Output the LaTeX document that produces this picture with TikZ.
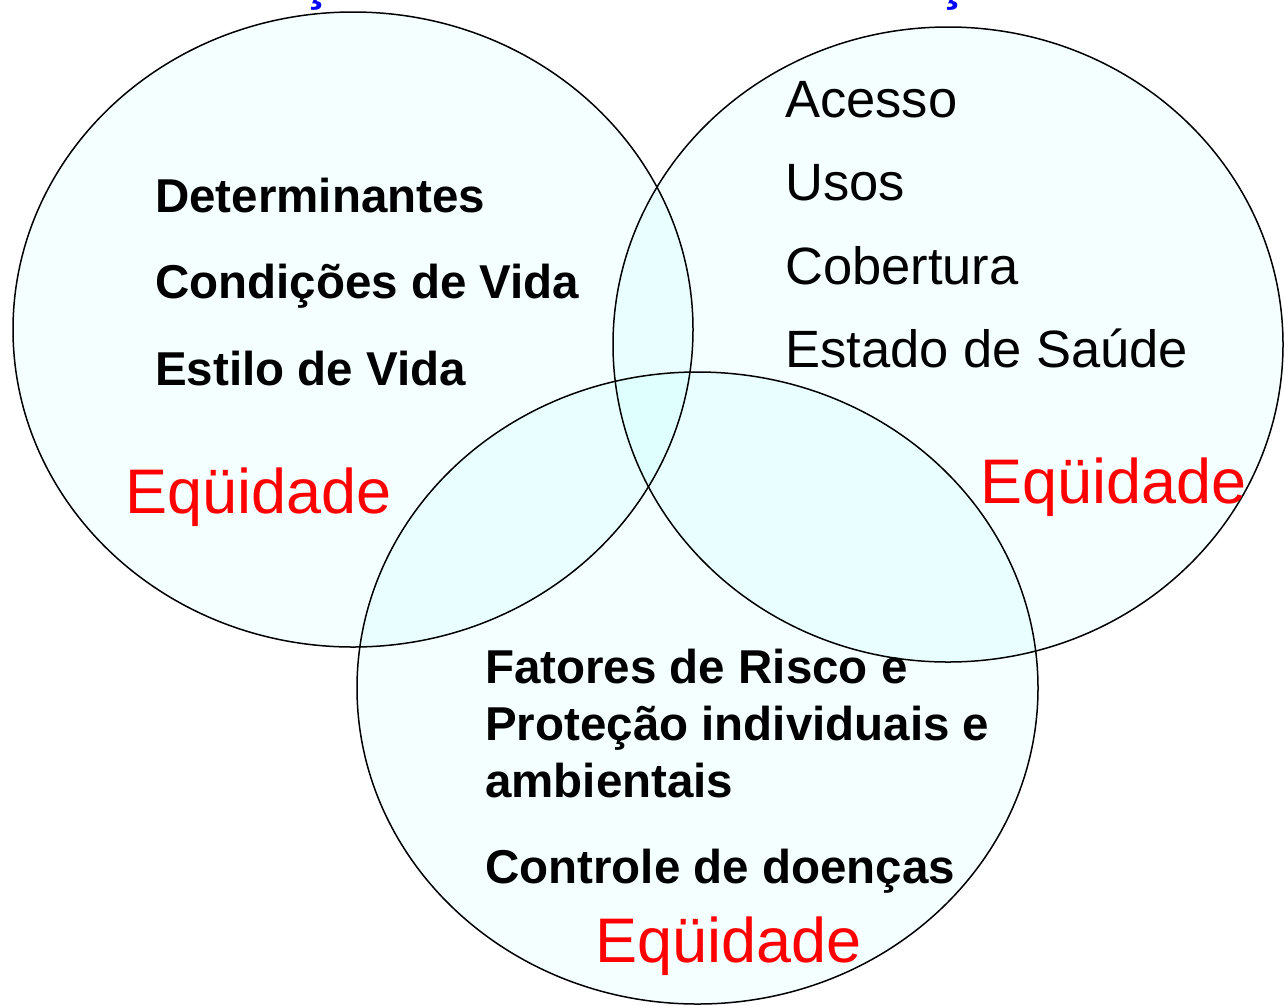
\documentclass[tikz,border=0pt]{standalone}
\usepackage{fontspec}
\setmainfont{Liberation Sans}
\definecolor{ringcyan}{RGB}{0,255,255}
\definecolor{titleblue}{RGB}{0,0,255}
\definecolor{eqred}{RGB}{255,0,0}
\begin{document}
\begin{tikzpicture}[x=1pt,y=-1pt,
  ring/.style={draw=black,line width=1.5pt},
  ringfill/.style={fill=ringcyan,fill opacity=0.045},
  boldtxt/.style={anchor=base west,inner sep=0pt,font=\fontsize{47.5}{57}\selectfont\bfseries},
  regtxt/.style={anchor=base west,inner sep=0pt,font=\fontsize{52.5}{63}\selectfont},
  eqtxt/.style={anchor=base west,inner sep=0pt,text=eqred,font=\fontsize{63}{75}\selectfont},
  titletxt/.style={anchor=base west,inner sep=0pt,text=titleblue,font=\fontsize{52.5}{63}\selectfont\bfseries}]
\useasboundingbox (0,0) rectangle (1284,1005);
\begin{scope}
\clip (0,0) rectangle (1284,1005);
\node[titletxt] (title) at (106,-0.5) {Articulação da Saúde com a Atenção};
% fills
\fill[ringfill] (353,329.5) ellipse [x radius=340,y radius=317.5];
\fill[ringfill] (948,344.5) ellipse [x radius=335,y radius=317.5];
\fill[ringfill] (697.5,688) ellipse [x radius=340.5,y radius=316];
% outlines
\draw[ring] (353,329.5) ellipse [x radius=340,y radius=317.5];
\draw[ring] (948,344.5) ellipse [x radius=335,y radius=317.5];
\draw[ring] (697.5,688) ellipse [x radius=340.5,y radius=316];
\end{scope}
% left circle text
\node[boldtxt] (det) at (155,212) {Determinantes};
\node[boldtxt] (cond) at (155,298) {Condições de Vida};
\node[boldtxt] (est) at (155,385) {Estilo de Vida};
\node[eqtxt] (eq1) at (125,513) {Eqüidade};
% right circle text
\node[regtxt] (ace) at (785,117) {Acesso};
\node[regtxt] (uso) at (785,200) {Usos};
\node[regtxt] (cob) at (785,284) {Cobertura};
\node[regtxt] (esa) at (785,367) {Estado de Saúde};
\node[eqtxt] (eq2) at (980,503) {Eqüidade};
% bottom circle text
\node[boldtxt] (fat) at (485,683) {Fatores de Risco e};
\node[boldtxt] (pro) at (485,740) {Proteção individuais e};
\node[boldtxt] (amb) at (485,797) {ambientais};
\node[boldtxt] (con) at (485,883) {Controle de doenças};
\node[eqtxt] (eq3) at (595,962) {Eqüidade};
\end{tikzpicture}
\end{document}
